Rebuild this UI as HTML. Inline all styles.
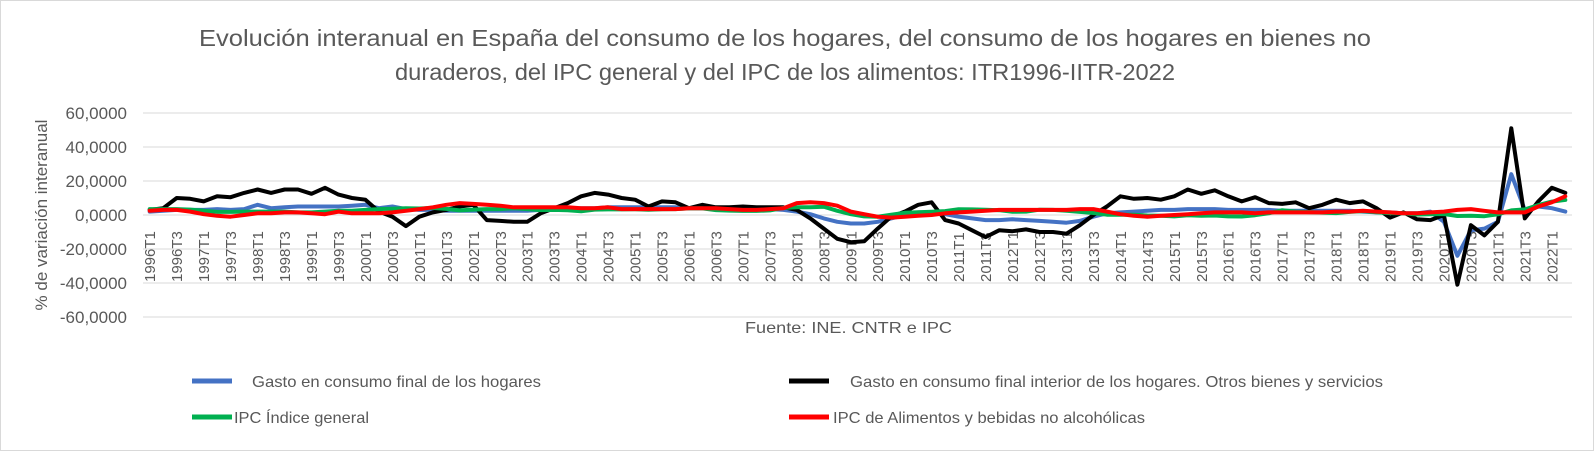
<!DOCTYPE html>
<html><head><meta charset="utf-8"><style>
body{margin:0;background:#fff;}
svg{display:block;font-family:"Liberation Sans",sans-serif;}
</style></head><body>
<svg id="chart" width="1595" height="452">
<rect x="0.5" y="0.5" width="1593" height="450" fill="#fff" stroke="#d9d9d9"/>
<text x="785" y="46" text-anchor="middle" font-size="23" fill="#595959" textLength="1172" lengthAdjust="spacingAndGlyphs">Evolución interanual en España del consumo de los hogares, del consumo de los hogares en bienes no</text>
<text x="785" y="80" text-anchor="middle" font-size="23" fill="#595959" textLength="780" lengthAdjust="spacingAndGlyphs">duraderos, del IPC general y del IPC de los alimentos: ITR1996-IITR-2022</text>
<text transform="translate(47,215) rotate(-90)" text-anchor="middle" font-size="17" fill="#595959">% de variación interanual</text>
<g id="grid"></g><g id="yticks"></g><g id="xlabels"></g><g id="series"></g>
<text x="745" y="333" font-size="16" fill="#595959" textLength="207" lengthAdjust="spacingAndGlyphs">Fuente: INE. CNTR e IPC</text>
<g font-size="16" fill="#595959">
<g><line x1="192" y1="381" x2="232" y2="381" stroke="#4472c4" stroke-width="5"/><text x="252" y="387" textLength="289" lengthAdjust="spacingAndGlyphs">Gasto en consumo final de los hogares</text></g>
<g><line x1="789" y1="381" x2="829" y2="381" stroke="#000" stroke-width="5"/><text x="850" y="387" textLength="533" lengthAdjust="spacingAndGlyphs">Gasto en consumo final interior de los hogares. Otros bienes y servicios</text></g>
<g><line x1="192" y1="417" x2="232" y2="417" stroke="#00b050" stroke-width="5"/><text x="234" y="423" textLength="135" lengthAdjust="spacingAndGlyphs">IPC Índice general</text></g>
<g><line x1="789" y1="417" x2="829" y2="417" stroke="#ff0000" stroke-width="5"/><text x="833" y="423" textLength="312" lengthAdjust="spacingAndGlyphs">IPC de Alimentos y bebidas no alcohólicas</text></g>
</g>
</svg>
<script>
const years = [];
for (let y = 1996; y <= 2022; y++) years.push(y);
const yTicks = [60, 40, 20, 0, -20, -40, -60];
const gastoHogares = [2,2.5,3,3, 3,3.5,3,3.5, 6,4,4.5,5, 5,5,5,5.5, 6,4,5,3.5, 3,3,2.5,2.5, 2.5,2.5,2.5,2.5, 2.5,3,3,3.5, 4,4,4.5,4.5, 4.5,4.5,4.5,4.5, 4,4,4,4, 3.5,3.5,3.5,3, 2,0.5,-2,-4, -5,-5,-4,-2, 0,1.5,1.5,0.5, -1,-2,-3,-3, -2.5,-3,-3.5,-4, -4.5,-3.5,-1,1, 1.5,2,2.5,3, 3,3.5,3.5,3.5, 3,3,3,3, 2.5,2.5,2.5,2.5, 2.5,2.5,2,1.5, 1.5,1,1,2, -4,-24,-9,-8, -4,24,3,5, 4,2];
const otrosBienes = [3,4,10,9.5, 8,11,10.5,13, 15,13,15,15, 12.5,16,12,10, 9,2,-1,-6.5, -1,1.5,3,5, 6,-3,-3.5,-4, -4,1,4,7, 11,13,12,10, 9,5,8,7.5, 4,6,4.5,4.5, 5,4.5,4.5,4.5, 3,-2,-8,-14, -16,-15.5,-8,-1, 2,6,7.5,-3, -5,-9,-13,-9, -9.5,-8.5,-10,-10, -11,-6,0,5, 11,9.5,10,9, 11,15,12.5,14.5, 11,8,10.5,7, 6.5,7.5,4,6, 9,7,8,4, -1.5,1.5,-2.5,-3, 0,-41,-6,-12, -4,51,-2,8, 16,13];
const ipcGeneral = [3.5,3.5,3.5,3.2, 2.5,1.8,1.8,2, 2,2,2,1.5, 1.5,2,2.5,2.5, 3,3.5,3.7,4, 3.8,4.2,3.6,2.7, 3.2,3.5,3.5,4, 3.5,2.9,3,2.8, 2.2,3.2,3.3,3.3, 3.4,3.1,3.4,3.5, 3.9,3.9,2.9,2.6, 2.4,2.4,2.7,4.1, 4.5,4.6,4.9,2.5, 0.5,-0.8,-1,0.2, 1.3,1.6,1.9,2.3, 3.4,3.3,3.1,2.8, 1.9,2,3.1,3, 2.5,1.8,1.2,0.2, 0.1,0.2,-0.3,-0.5, -0.8,-0.2,-0.5,-0.3, -0.8,-0.9,-0.1,1, 2.8,2,1.7,1.4, 1.1,1.8,2.3,1.6, 1.1,1,0.3,0.5, 0.6,-0.6,-0.5,-0.7, 0.4,2.7,3.3,5.8, 7.9,8.9];
const ipcAlimentos = [2.5,3,3,2, 0.5,-0.5,-1,0, 1,1,1.5,1.5, 1,0.5,2,1, 1,1,1.5,2.5, 3.5,4.5,6,7, 6.5,6,5.5,4.5, 4.5,4.5,4.5,4.5, 4,4,4.5,3.5, 3.5,3.5,3.5,3.5, 4,4,4,3.5, 3,3,3.5,4, 7,7.5,7,5.5, 2,0.5,-1,-1.5, -1,-0.5,0,1, 1.5,2,2.5,3, 3,3,3,3, 3,3.5,3.5,2, 0.5,-0.5,-1,-0.5, 0,0.5,1,1.5, 1.5,1.5,1,1.5, 1.5,1.5,1.5,1.5, 2,2,2.5,2, 1.5,1,1,1.5, 2,3,3.5,2.5, 1.5,1.5,1.5,5, 7.5,11];

const categories = [];
years.forEach(y => ['T1','T2','T3','T4'].forEach(q => categories.push(y + q)));
categories.length = gastoHogares.length;

const NS = 'http://www.w3.org/2000/svg';
const PL = 143, PR = 1572, Y0 = 215, PX_PER_UNIT = 34 / 20;
const n = categories.length;
const step = (PR - PL) / n;
function xPos(i){ return PL + step * (i + 0.5); }
function yPos(v){ return Y0 - v * PX_PER_UNIT; }
function mk(tag, attrs){ const e = document.createElementNS(NS, tag); for (const k in attrs) e.setAttribute(k, attrs[k]); return e; }

const grid = document.getElementById('grid'), yt = document.getElementById('yticks');
yTicks.forEach(t => {
  const l = mk('line', {x1: PL, x2: PR, y1: yPos(t), y2: yPos(t), stroke: '#d9d9d9', 'stroke-width': 1});
  
  
  grid.appendChild(l);
  const tx = mk('text', {x: 127, y: yPos(t) + 6, 'text-anchor': 'end', 'font-size': 17, fill: '#595959'});
  tx.textContent = t.toFixed(4).replace('.', ',');
  
  
  yt.appendChild(tx);
});

const xl = document.getElementById('xlabels');
categories.forEach((c, i) => {
  if (i % 2) return;
  const tx = mk('text', {transform: `translate(${xPos(i) + 5.5},282) rotate(-90)`, 'font-size': 15, fill: '#595959'});
  tx.textContent = c;
  
  
  xl.appendChild(tx);
});

const sg = document.getElementById('series');
function drawSeries(arr, color, name){
  const p = mk('polyline', {points: arr.map((v, i) => xPos(i).toFixed(1) + ',' + yPos(v).toFixed(1)).join(' '), fill: 'none', stroke: color, 'stroke-width': 4, 'stroke-linejoin': 'round', 'stroke-linecap': 'round'});
  
  
  sg.appendChild(p);
}
drawSeries(gastoHogares, '#4472c4', 'series-gasto-hogares');
drawSeries(otrosBienes, '#000000', 'series-otros-bienes');
drawSeries(ipcGeneral, '#00b050', 'series-ipc-general');
drawSeries(ipcAlimentos, '#ff0000', 'series-ipc-alimentos');
</script>
</body></html>
